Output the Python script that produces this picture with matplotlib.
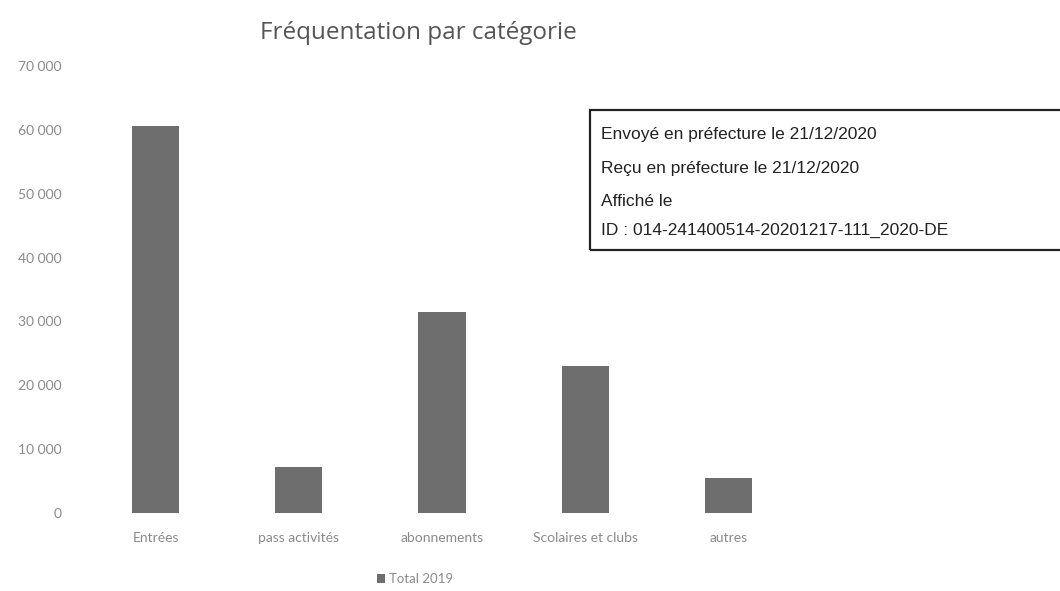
import matplotlib
matplotlib.use("Agg")
import matplotlib.pyplot as plt
from matplotlib.patches import Rectangle
from matplotlib.ticker import FuncFormatter

categories = ["Entrées", "pass activités", "abonnements", "Scolaires et clubs", "autres"]
values = [60600, 7200, 31500, 23000, 5500]
series_name = "Total 2019"
title = "Fréquentation par catégorie"
stamp_lines = [
    "Envoyé en préfecture le 21/12/2020",
    "Reçu en préfecture le 21/12/2020",
    "Affiché le",
    "ID : 014-241400514-20201217-111_2020-DE",
]

W, H = 1060, 591
fig = plt.figure(figsize=(W / 100, H / 100), dpi=100)
fig.patch.set_facecolor("white")

left, right, top, bottom = 84, 800, 66, 513
ax = fig.add_axes([left / W, 1 - bottom / H, (right - left) / W, (bottom - top) / H])
ax.set_facecolor("none")

bar_color = "#6e6e6e"
bars = ax.bar(range(len(categories)), values, width=0.33, color=bar_color, label=series_name)
ax.set_xlim(-0.5, len(categories) - 0.5)
ax.set_ylim(0, 70000)
ax.set_yticks(range(0, 70001, 10000))
ax.yaxis.set_major_formatter(FuncFormatter(lambda v, p: f"{int(v):,}".replace(",", " ")))
ax.set_xticks(range(len(categories)))
ax.set_xticklabels(categories)
for s in ax.spines.values():
    s.set_visible(False)
ax.tick_params(axis="both", length=0, colors="#8a8a8a", labelsize=10)
ax.tick_params(axis="x", pad=14)
ax.tick_params(axis="y", pad=16)
for lbl in ax.get_xticklabels() + ax.get_yticklabels():
    lbl.set_fontfamily("Lato")

fig.text(418 / W, 1 - 33 / H, title, ha="center", va="center", fontsize=17.5,
         color="#555555", family="Open Sans")

leg = fig.legend(handles=[bars], labels=[series_name], loc="center",
                 bbox_to_anchor=(415 / W, 1 - 579 / H), frameon=False,
                 prop={"family": "Lato", "size": 9.5}, handlelength=0.6,
                 handleheight=0.7, handletextpad=0.3)
for t in leg.get_texts():
    t.set_color("#8a8a8a")

# stamp box
bx0, by0, bx1, by1 = 590, 110, 1065, 250
fig.patches.append(Rectangle((bx0 / W, 1 - by1 / H), (bx1 - bx0) / W, (by1 - by0) / H,
                             transform=fig.transFigure, fill=False, edgecolor="#222222",
                             linewidth=1.6, clip_on=False))
for i, line in enumerate(stamp_lines):
    y = [135, 169, 201, 230][i]
    fig.text(601 / W, 1 - y / H, line, ha="left", va="center", fontsize=12.5,
             color="#222222", family="Liberation Sans")

fig.savefig("out.png", dpi=100, facecolor="white")
